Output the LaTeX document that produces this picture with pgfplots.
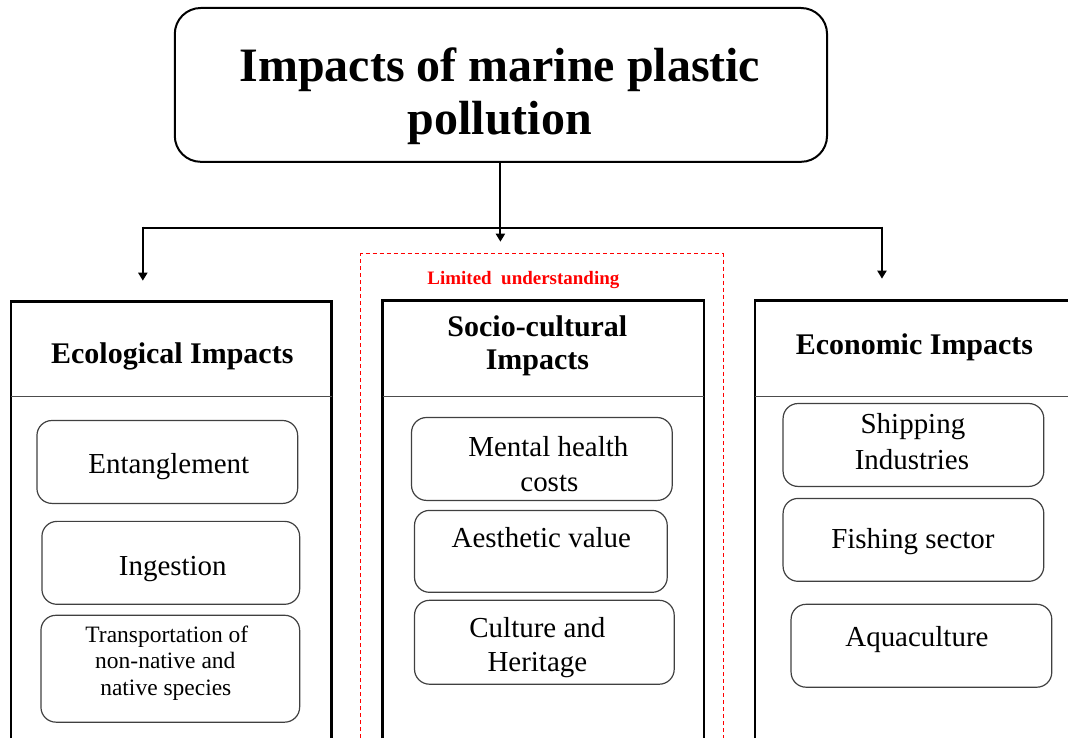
\documentclass[border=0pt]{standalone}
\usepackage{pgfplots}
\pgfplotsset{compat=1.18}
\usepackage{fontspec}
\setmainfont{Liberation Serif}
\usetikzlibrary{arrows.meta}
\definecolor{boxgray}{rgb}{0.25,0.25,0.25}
\newcommand{\fs}[1]{\fontsize{#1}{#1}\selectfont}

\begin{document}
\begin{tikzpicture}
\begin{axis}[
  width=1069pt, height=739pt, scale only axis,
  xmin=0, xmax=1069, ymin=0, ymax=739, y dir=reverse,
  axis lines=none, clip=false,
]
% keep the full canvas in the bounding box
\path (0,0) rectangle (1069,739);

% title box
\draw[line width=2pt, rounded corners=26pt] (175,8) rectangle (828,162);
\node[anchor=base, font=\fs{48}\bfseries] at (500.5,82) {Impacts of marine plastic};
\node[anchor=base, font=\fs{48}\bfseries] at (500.5,135) {pollution};

% connectors
\draw[line width=2pt, -{Triangle[length=8pt,width=9pt]}] (501,162) -- (501,242);
\draw[line width=2pt] (142,228) -- (884,228);
\draw[line width=2pt, -{Triangle[length=8pt,width=9pt]}] (143,227) -- (143,281);
\draw[line width=2pt, -{Triangle[length=8pt,width=9pt]}] (883,227) -- (883,279);

% limited understanding frame
\draw[red, line width=1pt, dash pattern=on 4pt off 3pt] (361,739) -- (361,254) -- (724,254) -- (724,739);
\node[anchor=base, red, font=\fs{19}\bfseries] at (524,285) {Limited\ \ understanding};

% panels
\draw[line width=2.5pt] (11,739) -- (11,302) -- (332,302) -- (332,739);
\draw[line width=1pt, black!70] (11,397) -- (332,397);
\draw[line width=2.5pt] (383,739) -- (383,301) -- (705,301) -- (705,739);
\draw[line width=1pt, black!70] (383,397) -- (705,397);
\draw[line width=2.5pt] (756,739) -- (756,301) -- (1069,301);
\draw[line width=1pt, black!70] (756,397) -- (1069,397);

\tikzset{hd/.style={anchor=base, font=\fs{30}\bfseries}}
\node[hd] at (172.5,364) {Ecological Impacts};
\node[hd] at (538,337) {Socio-cultural};
\node[hd] at (538,370) {Impacts};
\node[hd] at (915.5,355) {Economic Impacts};

% inner boxes
\tikzset{ib/.style={line width=1.2pt, draw=boxgray, rounded corners=15pt},
         tx/.style={anchor=base, font=\fs{29}},
         ts/.style={anchor=base, font=\fs{23.5}}}
\draw[ib] (37,421) rectangle (298,504);
\draw[ib] (42,522) rectangle (300,605);
\draw[ib] (41,616) rectangle (300,723);
\draw[ib] (412,418) rectangle (673,501);
\draw[ib] (415,511) rectangle (668,593);
\draw[ib] (415,601) rectangle (675,685);
\draw[ib] (784,404) rectangle (1045,487);
\draw[ib] (784,499) rectangle (1045,582);
\draw[ib] (792,605) rectangle (1053,688);

\node[tx] at (169,474) {Entanglement};
\node[tx] at (173,576) {Ingestion};
\node[ts] at (167,643) {Transportation of};
\node[ts] at (165.5,669) {non-native and};
\node[ts] at (166,696) {native species};

\node[tx] at (549,457) {Mental health};
\node[tx] at (550,492) {costs};
\node[tx] at (542,548) {Aesthetic value};
\node[tx] at (538,638) {Culture and};
\node[tx] at (538,672) {Heritage};

\node[tx] at (914,434) {Shipping};
\node[tx] at (913,470) {Industries};
\node[tx] at (914,549) {Fishing\ sector};
\node[tx] at (918,647) {Aquaculture};
\end{axis}
\end{tikzpicture}
\end{document}
